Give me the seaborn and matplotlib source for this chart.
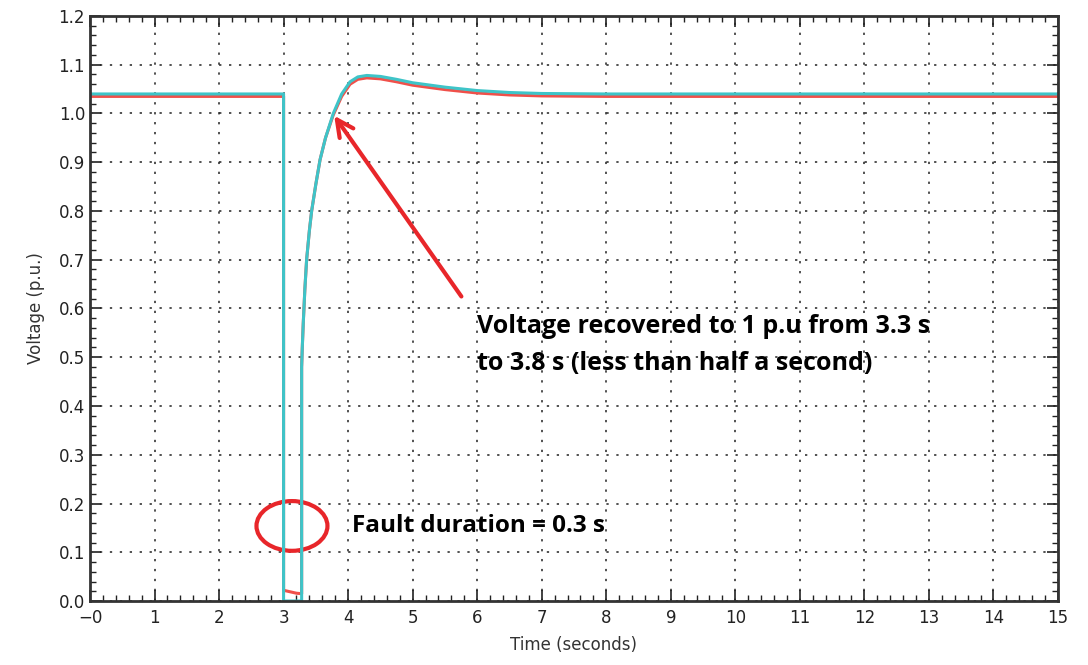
import numpy as np
import pandas as pd
import matplotlib
matplotlib.use("Agg")
import matplotlib.pyplot as plt
import seaborn as sns
from matplotlib.patches import Ellipse
from matplotlib.ticker import MultipleLocator

# ---------------------------------------------------------
# Data
# ---------------------------------------------------------
time_blue = [0.0, 3.0, 3.0, 3.28, 3.28, 3.29, 3.305, 3.33, 3.357, 3.40, 3.435,
             3.5, 3.565, 3.65, 3.77, 3.9, 4.03, 4.15, 4.29, 4.5, 4.75, 5.0,
             5.5, 6.0, 6.5, 7.0, 8.0, 15.0]
volt_blue = [1.04, 1.04, 0.0, 0.0, 0.48, 0.52, 0.57, 0.64, 0.70, 0.76, 0.80,
             0.855, 0.905, 0.95, 1.0, 1.04, 1.065, 1.075, 1.078, 1.076, 1.07,
             1.063, 1.054, 1.047, 1.043, 1.041, 1.04, 1.04]

time_red = [0.0, 3.0, 3.0, 3.1, 3.2, 3.28, 3.28, 3.29, 3.305, 3.33, 3.357,
            3.40, 3.435, 3.5, 3.565, 3.65, 3.77, 3.9, 4.03, 4.15, 4.29, 4.5,
            4.75, 5.0, 5.5, 6.0, 6.5, 7.0, 8.0, 15.0]
volt_red = [1.035, 1.035, 0.022, 0.019, 0.016, 0.015, 0.48, 0.52, 0.57, 0.64,
            0.70, 0.76, 0.80, 0.855, 0.905, 0.95, 0.997, 1.035, 1.06, 1.07,
            1.073, 1.071, 1.065, 1.058, 1.049, 1.042, 1.038, 1.036, 1.035,
            1.035]

x_ticks = list(range(0, 16))
x_tick_labels = ["\u22120"] + [str(i) for i in range(1, 16)]
y_ticks = [round(0.1 * i, 1) for i in range(13)]

df_red = pd.DataFrame({"t": time_red, "v": volt_red})
df_blue = pd.DataFrame({"t": time_blue, "v": volt_blue})

# ---------------------------------------------------------
# Plot
# ---------------------------------------------------------
sns.set_style("ticks")
plt.rcParams["font.family"] = ["DejaVu Sans"]

fig = plt.figure(figsize=(10.88, 6.65), dpi=100)
ax = fig.add_axes([0.0827, 0.0962, 0.8897, 0.8798])

sns.lineplot(data=df_red, x="t", y="v", sort=False, estimator=None,
             color="#f0504a", linewidth=2.2, ax=ax)
sns.lineplot(data=df_blue, x="t", y="v", sort=False, estimator=None,
             color="#3ec4c8", linewidth=2.2, ax=ax)

ax.set_xlim(0, 15)
ax.set_ylim(0, 1.2)
ax.set_xticks(x_ticks)
ax.set_xticklabels(x_tick_labels)
ax.set_yticks(y_ticks)
ax.set_yticklabels([f"{y:.1f}" for y in y_ticks])
ax.xaxis.set_minor_locator(MultipleLocator(0.2))
ax.yaxis.set_minor_locator(MultipleLocator(0.02))
ax.tick_params(which="both", direction="in", top=True, right=True,
               labelsize=12, colors="#222222")
ax.tick_params(which="major", length=8, width=1.2)
ax.tick_params(which="minor", length=4, width=1)
ax.tick_params(axis="x", pad=6)
for s in ax.spines.values():
    s.set_linewidth(2)
    s.set_color("#333333")
ax.grid(True, which="major", color="#222222", linestyle=(0, (1.5, 5)),
        linewidth=1.1)

ax.set_xlabel("Time (seconds)", fontsize=12, color="#333333", labelpad=6)
ax.set_ylabel("Voltage (p.u.)", fontsize=12, color="#333333", labelpad=10)

# ---------------------------------------------------------
# Annotations
# ---------------------------------------------------------
ax.annotate("", xy=(3.76, 1.0), xytext=(5.78, 0.62),
            arrowprops=dict(arrowstyle="->,head_length=1.2,head_width=0.6",
                            color="#e8262a", lw=3))
ax.text(6.0, 0.588, "Voltage recovered to 1 p.u from 3.3 s\n"
        "to 3.8 s (less than half a second)",
        fontsize=18, fontweight="bold", family=["Open Sans", "DejaVu Sans"],
        va="top", ha="left", linespacing=1.6, color="black")
ax.add_patch(Ellipse((3.13, 0.154), 1.1, 0.102, fill=False,
                     edgecolor="#e8262a", linewidth=3))
ax.text(4.06, 0.153, "Fault duration = 0.3 s", fontsize=17.5,
        fontweight="bold", family=["Open Sans", "DejaVu Sans"],
        va="center", ha="left", color="black")

fig.savefig("out.png", dpi=100)
